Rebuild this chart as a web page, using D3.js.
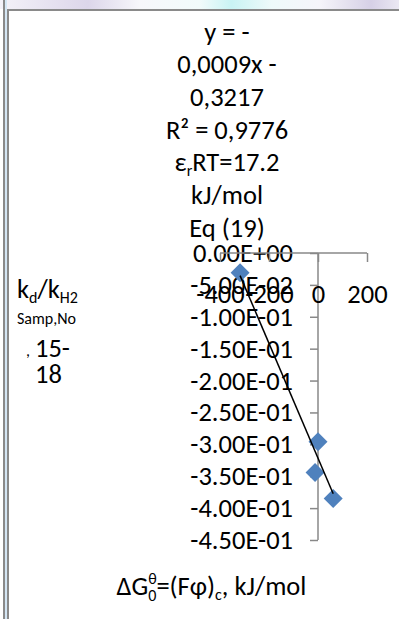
<!DOCTYPE html>
<html><head><meta charset="utf-8">
<script src="https://cdn.jsdelivr.net/npm/d3@7"></script>
<style>
html,body{margin:0;padding:0;background:#fff;}
svg{display:block;font-family:Carlito,Calibri,Lato,sans-serif;}
</style></head>
<body>
<svg id="c" width="399" height="619"></svg>
<script>
// ---- data ----
const xValues = [-318, 0, -12, 62];
const yValues = [-0.031, -0.296, -0.344, -0.385];
const xTicks = [-400, -200, 0, 200];
const yTicks = [0, -0.05, -0.10, -0.15, -0.20, -0.25, -0.30, -0.35, -0.40, -0.45];
const trendSlope = -0.0009;
const trendIntercept = -0.3217;
const eqLines = ["y = -", "0,0009x -", "0,3217", "R² = 0,9776", "εrRT=17.2", "kJ/mol", "Eq (19)"];

const svg = d3.select("#c");
const FONT = "Carlito,Calibri,Lato,sans-serif";
const FS = 26.5;
const SS = 16;

// top background strip
const defs = svg.append("defs");
const g = defs.append("linearGradient").attr("id","bg");
[[0,"#f4f2f8"],[0.22,"#dcd6ea"],[0.35,"#f7f7fb"],[0.5,"#f2fbfb"],[0.58,"#c9f3f4"],[0.68,"#eefafa"],[0.8,"#f6f5fa"],[0.93,"#d6d0e6"],[1,"#ebe8f2"]]
  .forEach(([o,c])=>g.append("stop").attr("offset",o).attr("stop-color",c));
svg.append("rect").attr("x",0).attr("y",0).attr("width",399).attr("height",9).attr("fill","url(#bg)");

// frame
svg.append("rect").attr("x",3).attr("y",0).attr("width",2).attr("height",619).attr("fill","#8a8a8a");
svg.append("rect").attr("x",5).attr("y",0).attr("width",2).attr("height",619).attr("fill","#d4e6f4");
svg.append("rect").attr("x",7).attr("y",9).attr("width",2).attr("height",610).attr("fill","#8a8a8a");
svg.append("rect").attr("x",7).attr("y",9).attr("width",392).attr("height",2).attr("fill","#8a8a8a");

// scales
const x = d3.scaleLinear().domain([-400, 200]).range([220, 367]);
const y = d3.scaleLinear().domain([-0.45, 0]).range([540, 253]);

function sci(v){
  if (v === 0) return "0.00E+00";
  const s = d3.format(".2e")(v).replace(/−/g,"-");
  const [m, e] = s.split("e");
  const en = +e;
  return m + "E" + (en < 0 ? "-" : "+") + String(Math.abs(en)).padStart(2,"0");
}

// y axis
const yAxis = svg.append("g").attr("transform",`translate(${x(0)},0)`)
  .call(d3.axisLeft(y).tickValues(yTicks).tickSize(8).tickPadding(17).tickFormat(sci));
yAxis.select(".domain").remove();
yAxis.append("line").attr("x1",0).attr("x2",0).attr("y1",y(0)).attr("y2",y(-0.45));

// x axis
const xAxis = svg.append("g").attr("transform",`translate(0,${y(0)})`)
  .call(d3.axisBottom(x).tickValues(xTicks).tickSize(9).tickPadding(22.5).tickFormat(d=>String(d)));
xAxis.select(".domain").remove();
xAxis.append("line").attr("x1",x(-400)).attr("x2",x(200)).attr("y1",0).attr("y2",0);

svg.selectAll(".tick line").attr("stroke","#888").attr("stroke-width",1.5);
yAxis.selectAll(":scope > line").attr("stroke","#888").attr("stroke-width",1.5);
xAxis.selectAll(":scope > line").attr("stroke","#888").attr("stroke-width",1.5);
svg.selectAll(".tick text").attr("font-size",FS).attr("font-family",FONT).attr("fill","#000");

// points
const sym = d3.symbol().type(d3.symbolSquare).size(180);
svg.append("g").selectAll("path").data(xValues.map((v,i)=>[v,yValues[i]])).join("path")
  .attr("d", sym)
  .attr("transform", d=>`translate(${x(d[0])},${y(d[1])}) rotate(45)`)
  .attr("fill","#4f81bd");

// trendline
const ext = d3.extent(xValues);
svg.append("line")
  .attr("x1",x(ext[0])).attr("y1",y(trendSlope*ext[0]+trendIntercept))
  .attr("x2",x(ext[1])).attr("y2",y(trendSlope*ext[1]+trendIntercept))
  .attr("stroke","#000").attr("stroke-width",1.5);

// equation label
const eq = svg.append("text").attr("font-size",FS).attr("text-anchor","middle");
eqLines.forEach((t,i)=>{
  const yy = 40.5 + i*32.7;
  if (t.startsWith("εr")) {
    eq.append("tspan").attr("x",227).attr("y",yy).text("ε");
    eq.append("tspan").attr("font-size",SS).attr("dy",5).text("r");
    eq.append("tspan").attr("dy",-5).text("RT=17.2");
  } else {
    eq.append("tspan").attr("x",227).attr("y",yy).text(t);
  }
});

// y title
const yt = svg.append("text").attr("font-size",FS);
yt.append("tspan").attr("x",17).attr("y",298).text("k");
yt.append("tspan").attr("font-size",SS).attr("dy",5).text("d");
yt.append("tspan").attr("dy",-5).text("/k");
yt.append("tspan").attr("font-size",SS).attr("dy",5).text("H2");
svg.append("text").attr("font-size",SS).attr("x",17).attr("y",324).text("Samp,No");
svg.append("text").attr("font-size",SS).attr("x",26).attr("y",356).text(",");
svg.append("text").attr("font-size",FS).attr("x",35).attr("y",357).text("15-");
svg.append("text").attr("font-size",FS).attr("x",35).attr("y",383).text("18");

// x title
const xt = svg.append("text").attr("font-size",FS).attr("text-anchor","middle").attr("x",211.5).attr("y",595);
xt.append("tspan").text("ΔG");
xt.append("tspan").attr("font-size",SS).attr("dy",-11).text("θ");
xt.append("tspan").attr("font-size",SS).attr("dy",17).attr("dx",-8.5).text("0");
xt.append("tspan").attr("dy",-6).text("=(Fφ)");
xt.append("tspan").attr("font-size",SS).attr("dy",5).text("c");
xt.append("tspan").attr("dy",-5).text(", kJ/mol");
</script>
</body></html>
